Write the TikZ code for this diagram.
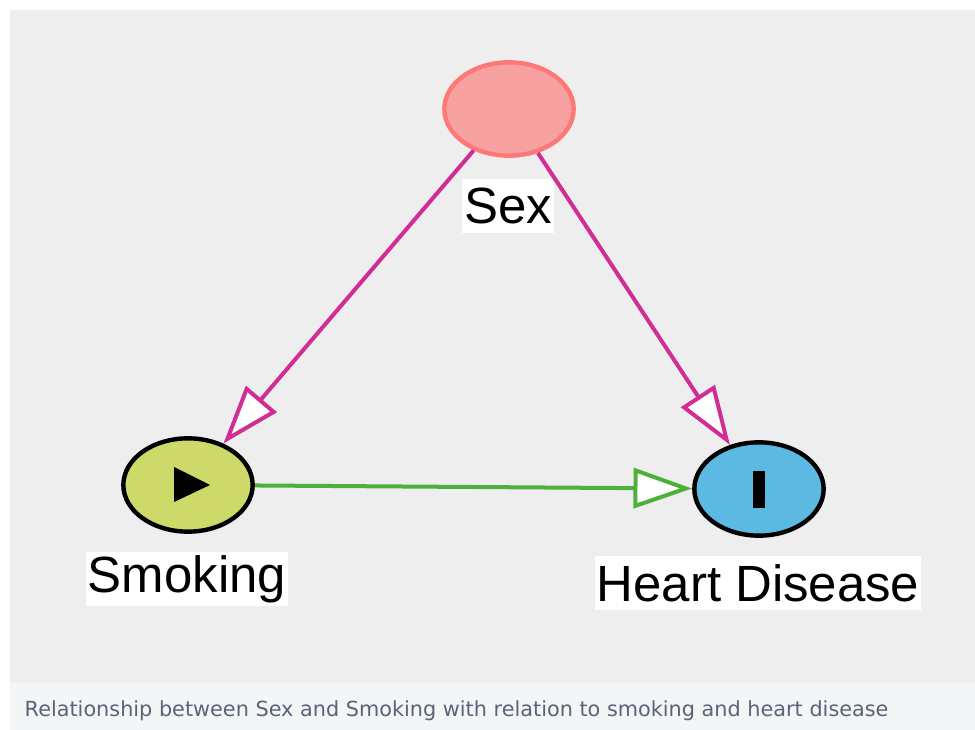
\documentclass[tikz,border=0pt]{standalone}
\usepackage{fontspec}
\setmainfont{Liberation Sans}
\newfontfamily\capfont{DejaVu Sans}
\usetikzlibrary{arrows.meta,calc,shapes.geometric}

\definecolor{panelgray}{HTML}{EEEEEE}
\definecolor{capband}{HTML}{F3F6F7}
\definecolor{captext}{HTML}{5B6477}
\definecolor{sexfill}{HTML}{F7A1A1}
\definecolor{sexdraw}{HTML}{FF7878}
\definecolor{smokefill}{HTML}{CDDA6A}
\definecolor{heartfill}{HTML}{5CB9E2}
\definecolor{pathpink}{HTML}{D02E94}
\definecolor{pathgreen}{HTML}{4DB03A}

\begin{document}
\begin{tikzpicture}[
  x=0.75pt,
  y=-0.75pt,
  varnode/.style={ellipse,line width=3.3pt,inner sep=0pt,minimum width=97pt,minimum height=70pt},
  namebox/.style={fill=white,inner xsep=1.5pt,inner ysep=0pt,minimum height=41pt,
    font=\fontsize{38.2}{40}\selectfont},
  edge/.style={line width=3pt,-{Triangle[length=44pt,width=30pt,fill=white]}}
]
\useasboundingbox (0,0) rectangle (975,730);

% Panel and caption band
\fill[panelgray] (10,10) rectangle (975,683);
\fill[capband] (10,683) rectangle (975,730);
\node[anchor=west,text=captext,font=\capfont\fontsize{15.6}{17}\selectfont] (caption) at (20,711)
  {Relationship between Sex and Smoking with relation to smoking and heart disease};

% Variables
\node[varnode,draw=sexdraw,fill=sexfill] (sex) at (509,109) {};
\node[varnode,draw=black,fill=smokefill] (smoke) at (188,485) {};
\node[varnode,draw=black,fill=heartfill] (heart) at (759,489) {};

% Exposure and outcome markers
\fill[black] ($(smoke)+(-14,-18)$) -- ($(smoke)+(22,0)$) -- ($(smoke)+(-14,17)$) -- cycle;
\fill[black] ($(heart)+(-6,-18)$) rectangle ($(heart)+(6,19)$);

% Labels
\node[namebox] (sexlabel) at (508,206) {Sex};
\node[namebox] (smokelabel) at (187,579) {Smoking};
\node[namebox] (heartlabel) at (758,583) {Heart Disease};

% Causal paths
\draw[edge,pathpink] (sex) -- (smoke);
\draw[edge,pathpink] (sex) -- (heart);
\draw[edge,pathgreen] (smoke) -- (heart);

\end{tikzpicture}
\end{document}
